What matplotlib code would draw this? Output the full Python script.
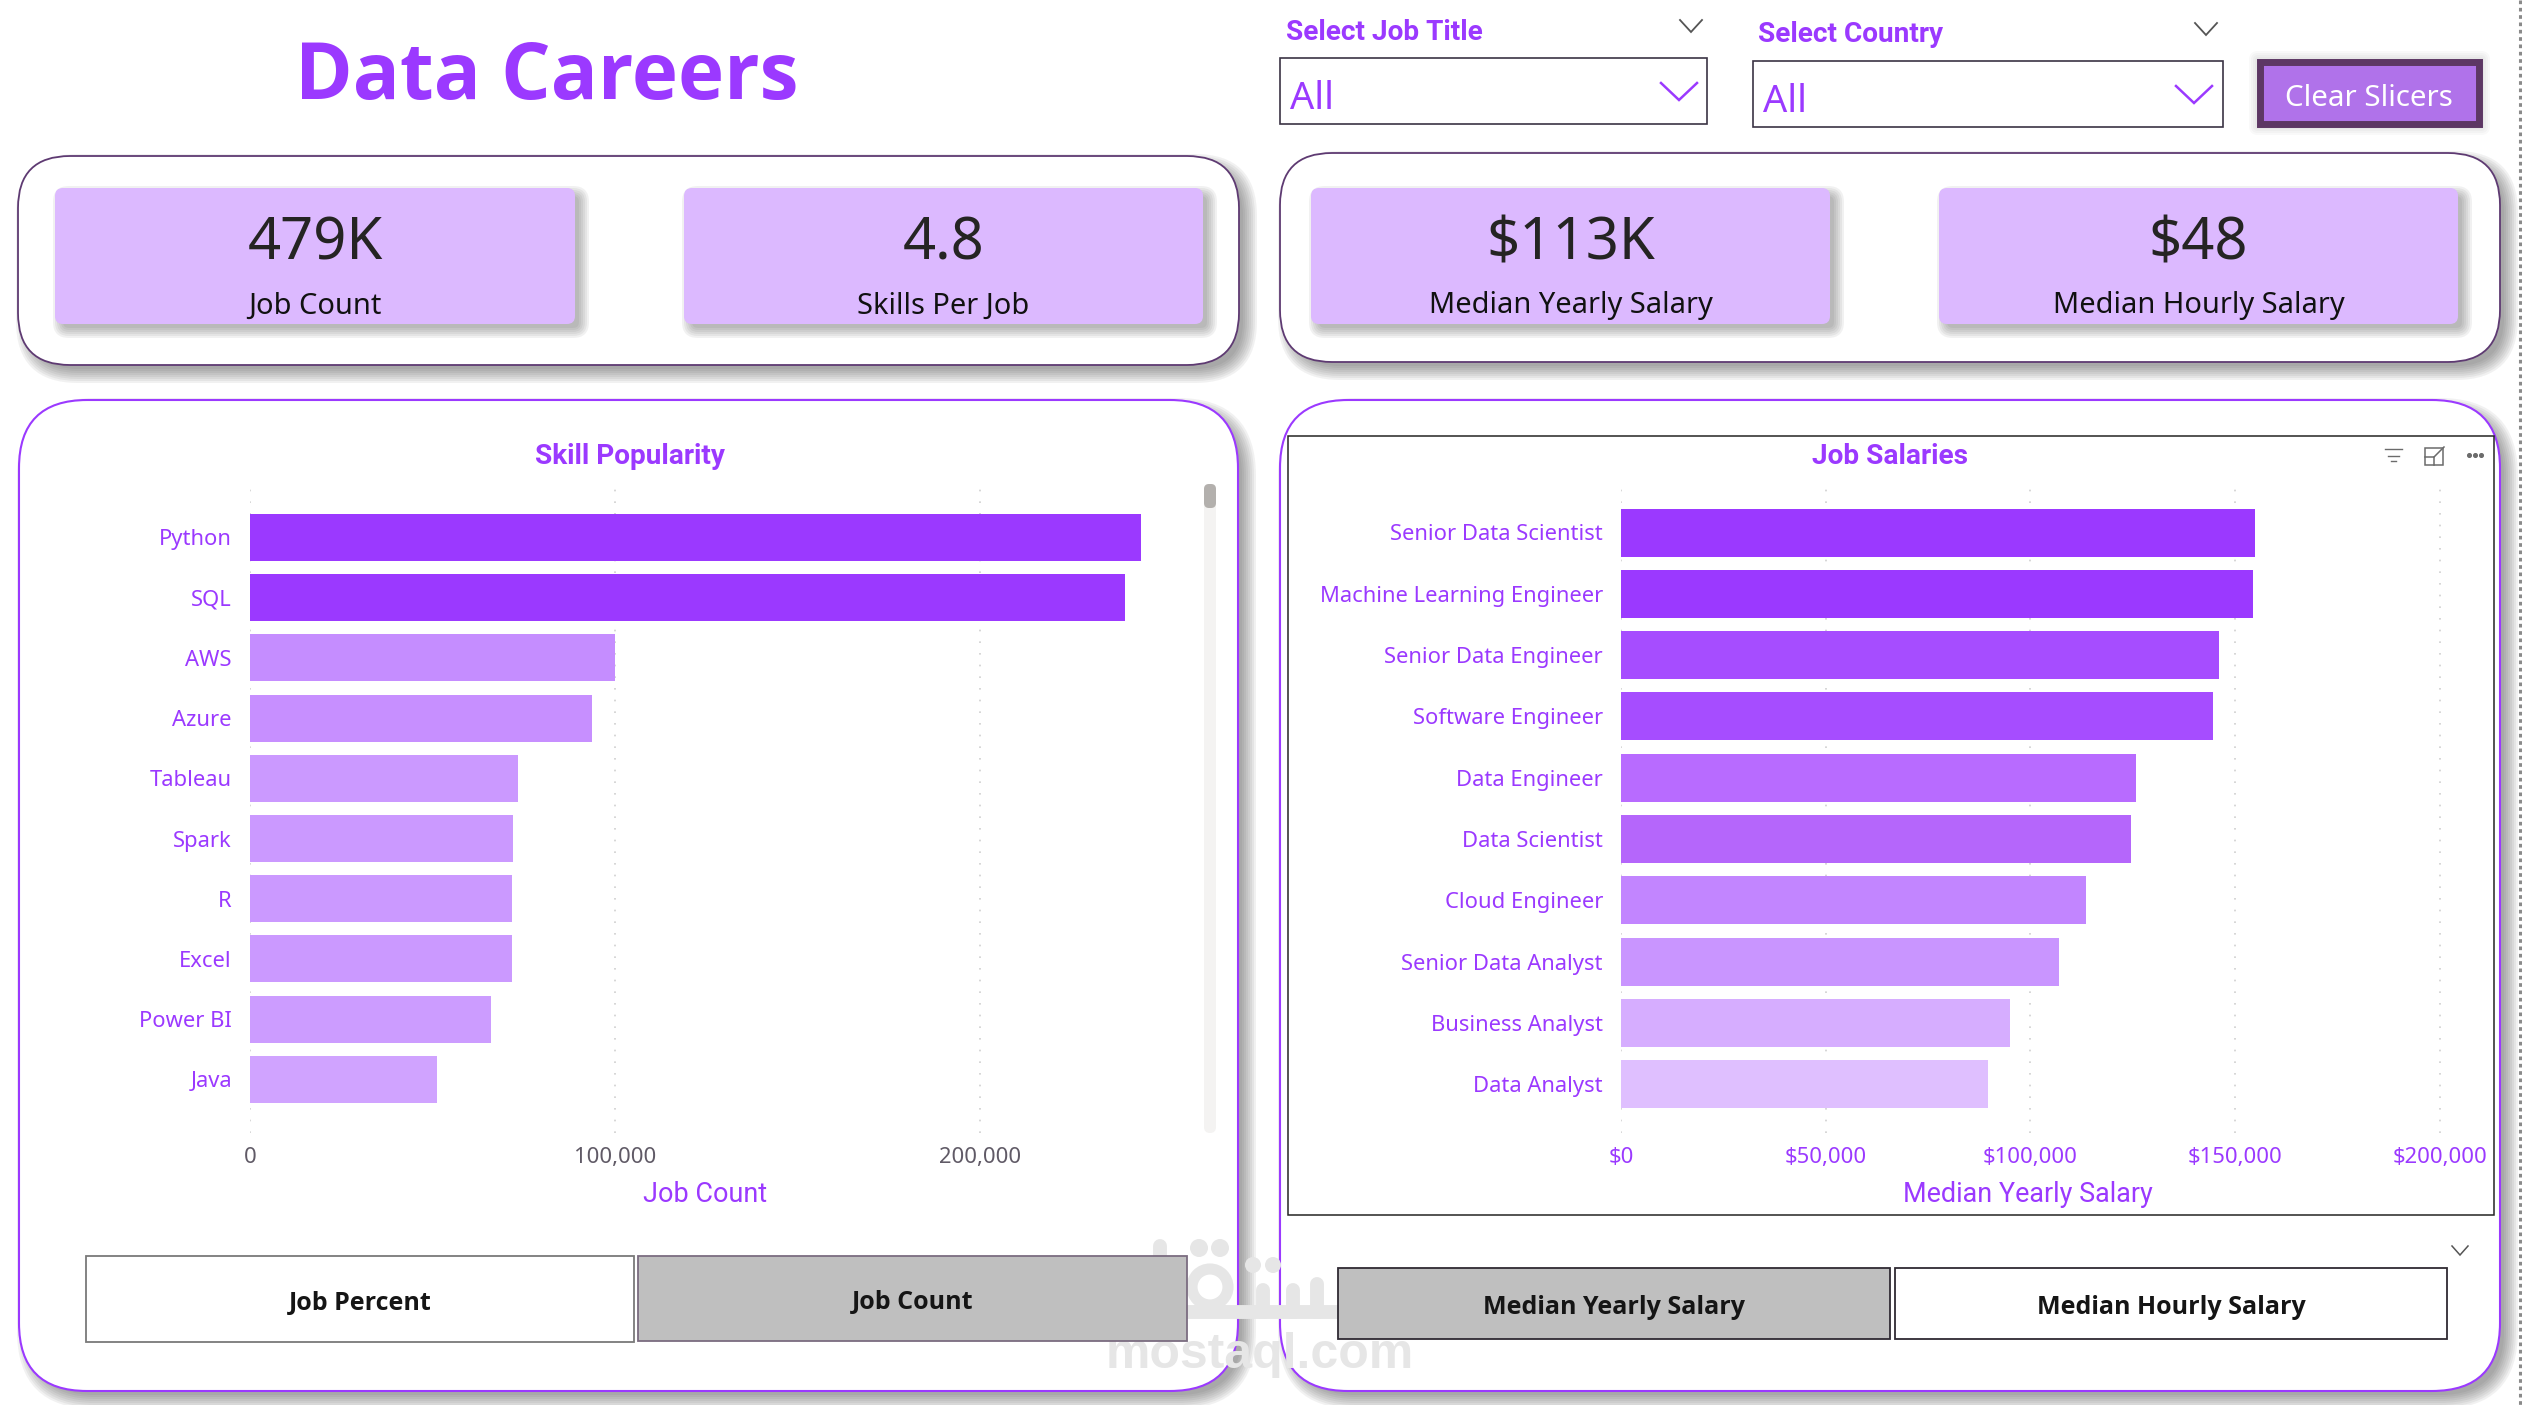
import matplotlib
matplotlib.use("Agg")
import matplotlib.pyplot as plt
from matplotlib.patches import Circle, FancyBboxPatch, Rectangle
from matplotlib.ticker import FuncFormatter

# ---- data ----
skills = ["Python", "SQL", "AWS", "Azure", "Tableau", "Spark", "R", "Excel", "Power BI", "Java"]
skill_counts = [244000, 239700, 100000, 93600, 73400, 72000, 71800, 71700, 66000, 51300]
skill_colors = ["#9b39ff", "#9b39ff", "#c58dff", "#c78fff", "#cb99ff",
                "#cb99ff", "#cb99ff", "#cb99ff", "#cc9cff", "#d0a3ff"]
job_titles = ["Senior Data Scientist", "Machine Learning Engineer", "Senior Data Engineer",
              "Software Engineer", "Data Engineer", "Data Scientist", "Cloud Engineer",
              "Senior Data Analyst", "Business Analyst", "Data Analyst"]
median_yearly = [154800, 154400, 146000, 144500, 125800, 124600, 113600, 107000, 95000, 89700]
job_colors = ["#9b39ff", "#9b39ff", "#a64dff", "#a64dff", "#b86bff",
              "#b566fb", "#c285ff", "#c995ff", "#d6adff", "#dfbfff"]
kpi_values = ["479K", "4.8", "$113K", "$48"]
kpi_labels = ["Job Count", "Skills Per Job", "Median Yearly Salary", "Median Hourly Salary"]
skill_ticks = [0, 100000, 200000]
salary_ticks = [0, 50000, 100000, 150000, 200000]

PURPLE = "#9b39ff"
DARK = "#252423"
BODY = "Noto Sans"
HEAD = "Roboto"
STRONG = "Open Sans"
W, H = 2522, 1405


def fs(px):
    """Font size in points for a height given in pixels at 100 dpi."""
    return px * 0.72


fig = plt.figure(figsize=(W / 100, H / 100), dpi=100, facecolor="white")
canvas = fig.add_axes([0, 0, 1, 1], zorder=0)
canvas.set_xlim(0, W)
canvas.set_ylim(H, 0)
canvas.axis("off")


def rbox(x0, y0, x1, y1, r, **kw):
    p = FancyBboxPatch((x0, y0), x1 - x0, y1 - y0,
                       boxstyle=f"round,pad=0,rounding_size={r}", **kw)
    canvas.add_patch(p)
    return p


def shadow(x0, y0, x1, y1, r, off=7, spread=12, strength=0.05, z=1):
    """Soft drop shadow built from stacked translucent rounded boxes."""
    for k in range(spread, -spread // 2, -2):
        rbox(x0 + off - k, y0 + off - k, x1 + off + k, y1 + off + k, max(r + k, 1),
             fc="#404040", ec="none", alpha=strength, zorder=z)


def panel(x0, y0, x1, y1, r, edge, lw=1.5):
    shadow(x0, y0, x1, y1, r, off=8, spread=10, strength=0.07)
    rbox(x0, y0, x1, y1, r, fc="white", ec=edge, lw=lw, zorder=2)


def chevron(cx, y0, y1, half, color, lw):
    canvas.plot([cx - half, cx, cx + half], [y0, y1, y0], color=color, lw=lw,
                solid_joinstyle="miter", zorder=6)


# ---- heading ----
canvas.text(547, 78, "Data Careers", color=PURPLE, fontsize=fs(78), family=STRONG,
            weight="bold", ha="center", va="center", zorder=6)

# ---- KPI groups ----
panel(18, 156, 1239, 365, 52, "#5e3a72", 1.3)
panel(1280, 153, 2500, 362, 52, "#5e3a72", 1.3)
card_spans = [(55, 575), (684, 1203), (1311, 1830), (1939, 2458)]
for (x0, x1), val, lab in zip(card_spans, kpi_values, kpi_labels):
    shadow(x0, 188, x1, 324, 8, off=6, spread=8, strength=0.07, z=2.5)
    rbox(x0, 188, x1, 324, 8, fc="#dcb9ff", ec="none", zorder=3)
    cx = (x0 + x1) / 2
    canvas.text(cx, 244, val, color=DARK, fontsize=fs(58), family=BODY,
                ha="center", va="center", zorder=6)
    canvas.text(cx, 306, lab, color="#111111", fontsize=fs(29), family=BODY,
                ha="center", va="center", zorder=6)

# ---- slicers ----
for label, lx, ly, sx, sy in [("Select Job Title", 1286, 32, 1691, 20),
                              ("Select Country", 1758, 35, 2206, 23)]:
    canvas.text(lx, ly, label, color=PURPLE, fontsize=fs(28), family=HEAD, weight="bold",
                ha="left", va="center", zorder=6)
    chevron(sx, sy, sy + 12, 11, "#555555", 1.3)
for x0, y0, x1, y1, cx in [(1280, 58, 1707, 124, 1679), (1753, 61, 2223, 127, 2194)]:
    canvas.add_patch(Rectangle((x0, y0), x1 - x0, y1 - y0, fc="white", ec="#3b3344", lw=1.2, zorder=3))
    canvas.text(x0 + 10, y0 + 41, "All", color=PURPLE, fontsize=fs(38), family=BODY,
                ha="left", va="center", zorder=6)
    chevron(cx, y0 + 25, y0 + 42, 18, PURPLE, 1.8)

shadow(2257, 59, 2482, 127, 1, off=0, spread=8, strength=0.03)
canvas.add_patch(Rectangle((2260, 62), 219, 62, fc="#b072ea", ec="#5d3764", lw=5, zorder=3))
canvas.text(2369, 98, "Clear Slicers", color="white", fontsize=fs(29.5), family=BODY,
            ha="center", va="center", zorder=6)

# ---- chart groups ----
panel(19, 400, 1238, 1391, 68, PURPLE)
panel(1280, 400, 2500, 1391, 68, PURPLE)
canvas.add_patch(Rectangle((1288, 436), 1206, 779, fc="none", ec="#252423", lw=1.1, zorder=3))
canvas.text(630, 456, "Skill Popularity", color=PURPLE, fontsize=fs(28), family=HEAD,
            weight="bold", ha="center", va="center", zorder=6)
canvas.text(1890, 456, "Job Salaries", color=PURPLE, fontsize=fs(28), family=HEAD,
            weight="bold", ha="center", va="center", zorder=6)

# scrollbar beside the skill bars
rbox(1204, 484, 1216, 1133, 6, fc="#f4f3f2", ec="none", zorder=3)
rbox(1204, 484, 1216, 508, 5, fc="#b3b0ad", ec="none", zorder=4)

# visual header icons
icon = "#6b6b6b"
for y, a, b in [(449, 2385, 2402), (456, 2388, 2399), (461, 2391, 2396)]:
    canvas.plot([a, b], [y, y], color=icon, lw=1.0, zorder=6)
canvas.add_patch(Rectangle((2425, 448), 18, 17, fc="none", ec=icon, lw=1.1, zorder=6))
canvas.plot([2434, 2444], [457, 447], color=icon, lw=1.1, zorder=6)
canvas.plot([2425, 2434, 2434], [457, 457, 465], color=icon, lw=1.1, zorder=6)
canvas.scatter([2469, 2475, 2481], [455, 455, 455], s=7, color=icon, zorder=6)
chevron(2460, 1246, 1255, 8, "#555555", 1.1)

# site wordmark and its logo, sitting behind the toggle buttons
MARK = "#e6e6e6"
canvas.text(1260, 1355, "mostaql.com", color=MARK, fontsize=fs(50), family="Liberation Sans",
            weight="bold", ha="center", va="center", zorder=4)
stroke = 10
canvas.plot([1160, 1160], [1246, 1312], color=MARK, lw=stroke, solid_capstyle="round", zorder=4)
canvas.plot([1160, 1345], [1312, 1312], color=MARK, lw=stroke, solid_capstyle="butt", zorder=4)
canvas.add_patch(Circle((1210, 1287), 18, fc="none", ec=MARK, lw=stroke * 0.8, zorder=4))
canvas.plot([1263, 1263], [1290, 1312], color=MARK, lw=stroke, solid_capstyle="round", zorder=4)
canvas.plot([1293, 1293], [1290, 1312], color=MARK, lw=stroke, solid_capstyle="round", zorder=4)
canvas.plot([1317, 1317], [1284, 1312], color=MARK, lw=stroke, solid_capstyle="round", zorder=4)
for cx, cy, r in [(1199, 1248, 9), (1220, 1248, 9), (1253, 1265, 8), (1273, 1265, 8)]:
    canvas.add_patch(Circle((cx, cy), r, fc=MARK, ec="none", zorder=4))

# ---- toggle buttons ----
buttons = [(86, 1256, 634, 1342, "white", "#7a7a7a", "Job Percent"),
           (638, 1256, 1187, 1341, "#bfbfbf", "#7b6c80", "Job Count"),
           (1338, 1268, 1890, 1339, "#bfbfbf", "#2f2a33", "Median Yearly Salary"),
           (1895, 1268, 2447, 1339, "white", "#2f2a33", "Median Hourly Salary")]
for x0, y0, x1, y1, fc, ec, lab in buttons:
    canvas.add_patch(Rectangle((x0, y0), x1 - x0, y1 - y0, fc=fc, ec=ec, lw=1.3, zorder=5))
    canvas.text((x0 + x1) / 2, (y0 + y1) / 2 + 4, lab, color="#151515", fontsize=fs(25), family=STRONG,
                weight="bold", ha="center", va="center", zorder=6)

# dotted page boundary at the right edge
canvas.plot([2519.5, 2519.5], [0, H], color="#8a8a8a", lw=2.2, ls=(0, (1.2, 1.2)), zorder=1)


def bar_chart(names, values, colors, ticks, fmt, box, xlim, first, step, bar_px,
              tick_color, xlabel, label_x):
    x0, y0, x1, y1 = box
    ax = fig.add_axes([x0 / W, 1 - y1 / H, (x1 - x0) / W, (y1 - y0) / H], zorder=2)
    ax.patch.set_alpha(0)
    ax.barh(range(len(names)), values, height=bar_px / step, color=colors, zorder=3)
    ax.set_xlim(*xlim)
    ax.set_ylim((y1 - first) / step, (y0 - first) / step)
    ax.set_yticks(range(len(names)), names)
    ax.set_xticks(ticks)
    ax.xaxis.set_major_formatter(FuncFormatter(fmt))
    ax.tick_params(axis="y", length=0, pad=13, labelsize=fs(22), labelcolor=PURPLE)
    ax.tick_params(axis="x", length=0, pad=10, labelsize=fs(22), labelcolor=tick_color)
    for lab in ax.get_xticklabels() + ax.get_yticklabels():
        lab.set_family(BODY)
    ax.grid(axis="x", color="#cfcfcf", lw=1.2, ls=(0, (1, 6)), zorder=0)
    ax.grid(axis="y", visible=False)
    for s in ax.spines.values():
        s.set_visible(False)
    ax.set_xlabel(xlabel, color=PURPLE, fontsize=fs(27), family=HEAD)
    ax.xaxis.set_label_coords((label_x - x0) / (x1 - x0), -(1181 - y1) / (y1 - y0))
    return ax


# 100,000 spans 365 px on the skill axis; 50,000 spans 204.7 px on the salary axis
bar_chart(skills, skill_counts, skill_colors, skill_ticks, lambda v, _: f"{v:,.0f}",
          (250, 483, 1195, 1133), (0, 945 / 365 * 100000), 537.5, 60.2, 47,
          "#605a66", "Job Count", 705)
bar_chart(job_titles, median_yearly, job_colors, salary_ticks, lambda v, _: f"${v:,.0f}",
          (1621, 483, 2442, 1133), (0, 821 / 204.7 * 50000), 532.5, 61.3, 48,
          PURPLE, "Median Yearly Salary", 2028)

fig.savefig("out.png", dpi=100, facecolor="white")
